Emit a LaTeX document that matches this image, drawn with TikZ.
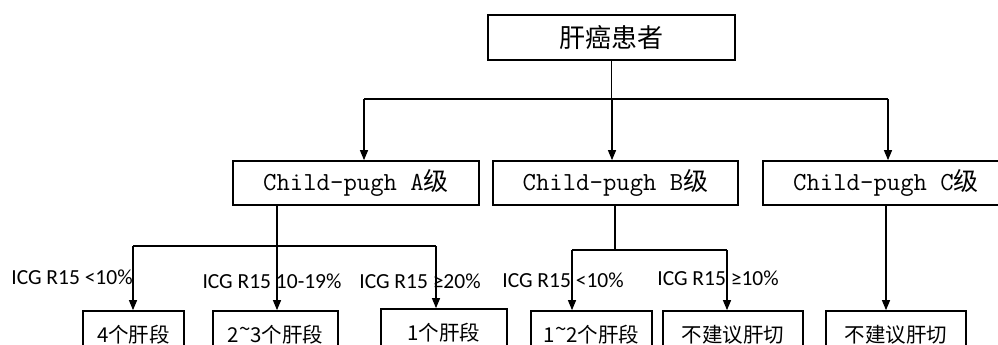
\documentclass[tikz,border=0pt]{standalone}
\usepackage{fontspec}
\usetikzlibrary{arrows.meta}
\newfontfamily\cjk{Noto Sans CJK SC}
\newfontfamily\calfnt{Carlito}
\begin{document}
\begin{tikzpicture}[x=1pt,y=-1pt,
  box/.style={draw,line width=1.7pt,inner sep=0pt,minimum height=44pt},
  lbl/.style={font=\calfnt\fontsize{21.5}{23}\selectfont,inner sep=0pt},
  conn/.style={line width=1.2pt},
  arr/.style={conn,-{Triangle[length=10pt,width=8pt]}}]
\useasboundingbox (0,0) rectangle (998,345);
\clip (0,0) rectangle (998,345);
% boxes
\node[box,minimum width=247pt,minimum height=45pt,font=\cjk\fontsize{26}{28}\selectfont] (top) at (611.5,37.5) {肝癌患者};
\node[box,minimum width=246pt] (A) at (356,183) {\fontsize{26}{28}\selectfont\ttfamily Child-pugh A\cjk\fontsize{25}{26}\selectfont 级};
\node[box,minimum width=245pt] (B) at (615.5,183) {\fontsize{26}{28}\selectfont\ttfamily Child-pugh B\cjk\fontsize{25}{26}\selectfont 级};
\node[box,minimum width=246pt] (C) at (886,183) {\fontsize{26}{28}\selectfont\ttfamily Child-pugh C\cjk\fontsize{25}{26}\selectfont 级};
\tikzset{bbox/.style={box,font=\cjk\fontsize{20.5}{22}\selectfont,text depth=0pt,minimum height=46pt}}
\node[bbox,minimum width=101pt] (b1) at (133.5,334) {4个肝段};
\node[bbox,minimum width=125pt] (b2) at (275.5,334) {2\raisebox{0.3em}{\textasciitilde}3个肝段};
\node[bbox,minimum width=126pt] (b3) at (444,332) {1个肝段};
\node[bbox,minimum width=121pt] (b4) at (591.5,334) {1\raisebox{0.3em}{\textasciitilde}2个肝段};
\node[bbox,minimum width=140pt] (b5) at (733,334) {不建议肝切};
\node[bbox,minimum width=140pt] (b6) at (896,334) {不建议肝切};
% labels
\node[lbl] (l1) at (72,277) {ICG R15 <10\%};
\node[lbl] (l2) at (272,281) {ICG R15 10-19\%};
\node[lbl] (l3) at (420,281) {ICG R15 ≥20\%};
\node[lbl] (l4) at (563,280) {ICG R15 <10\%};
\node[lbl] (l5) at (718,278) {ICG R15 ≥10\%};
% level 1
\coordinate (jA) at (364,99);
\coordinate (jB) at (612,99);
\coordinate (jC) at (888,99);
\draw[conn] (top.south) -- (top.south |- jB);
\draw[conn] (jA) -- (jC);
\draw[arr] (jA) -- (jA |- A.north);
\draw[arr] (jB) -- (jB |- B.north);
\draw[arr] (jC) -- (jC |- C.north);
% A branch
\coordinate (sA) at (277,205);
\coordinate (hA) at (277,246);
\coordinate (h1) at (133,246);
\coordinate (h3) at (436,246);
\draw[conn] (sA) -- (hA);
\draw[conn] (h1) -- (h3);
\draw[arr] (h1) -- (h1 |- b1.north);
\draw[arr] (hA) -- (hA |- b2.north);
\draw[arr] (h3) -- (h3 |- b3.north);
% B branch
\coordinate (sB) at (615,205);
\coordinate (hB) at (615,250);
\coordinate (h4) at (572,250);
\coordinate (h5) at (727,250);
\draw[conn] (sB) -- (hB);
\draw[conn] (h4) -- (h5);
\draw[arr] (h4) -- (h4 |- b4.north);
\draw[arr] (h5) -- (h5 |- b5.north);
% C branch
\coordinate (sC) at (886,205);
\draw[arr] (sC) -- (sC |- b6.north);
\end{tikzpicture}
\end{document}
